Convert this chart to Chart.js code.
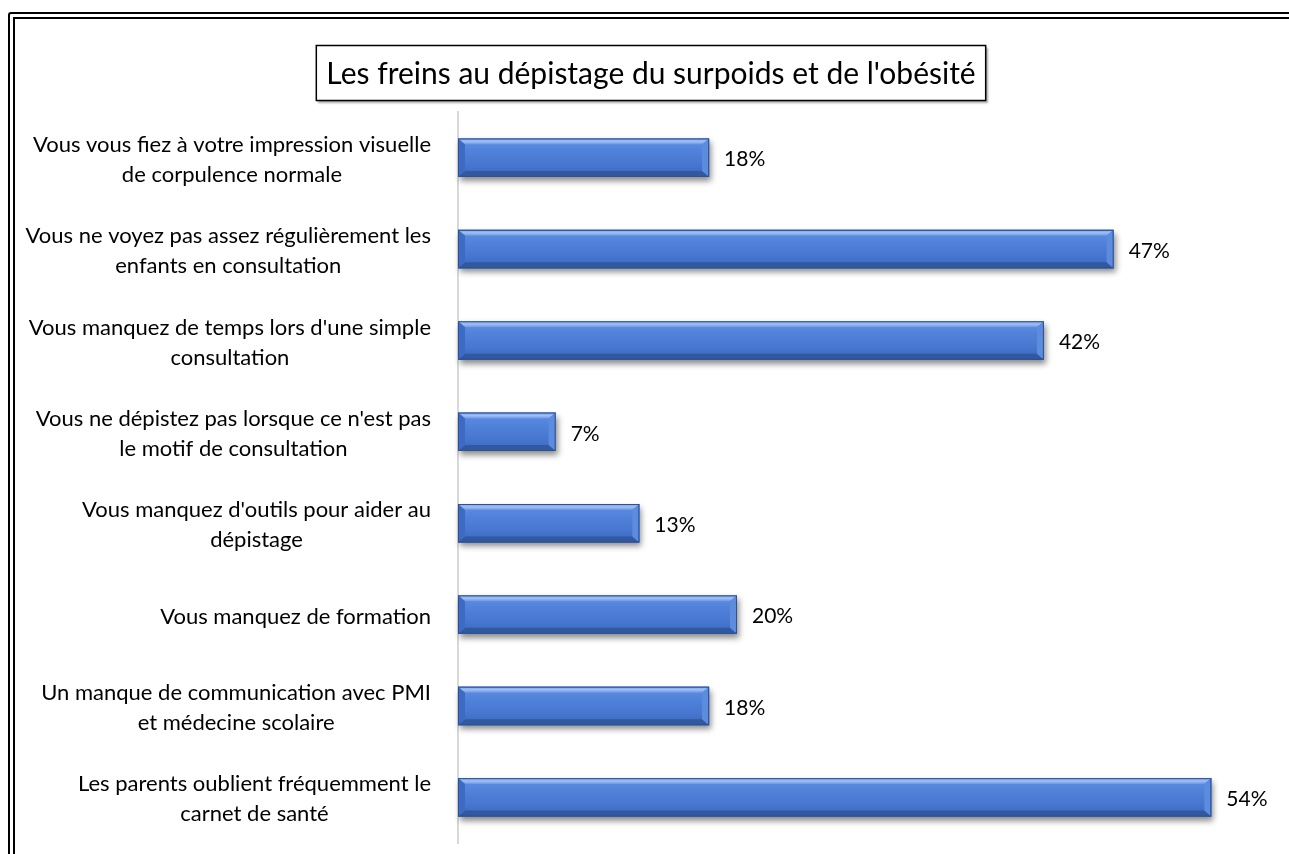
<!DOCTYPE html>
<html>
<head>
<meta charset="utf-8">
<script src="https://cdn.jsdelivr.net/npm/chart.js@4"></script>
<style>
  body { margin: 0; overflow: hidden; background: #fff; }
  #frame { position: absolute; left: 8px; top: 12px; width: 1400px; height: 1000px;
           border: 7px double #000; border-radius: 3px; }
  #chart { position: absolute; left: 0; top: 0; }
</style>
</head>
<body>
<div id="frame"></div>
<canvas id="chart" width="1300" height="854"></canvas>
<script>
// Données
const titre = "Les freins au dépistage du surpoids et de l'obésité";
const categories = [
  ['Vous vous fiez à votre impression visuelle', 'de corpulence normale'],
  ['Vous ne voyez pas assez régulièrement les', 'enfants en consultation'],
  ["Vous manquez de temps lors d'une simple", 'consultation'],
  ["Vous ne dépistez pas lorsque ce n'est pas", 'le motif de consultation'],
  ["Vous manquez d'outils pour aider au", 'dépistage'],
  ['Vous manquez de formation'],
  ['Un manque de communication avec PMI', 'et médecine scolaire'],
  ['Les parents oublient fréquemment le', 'carnet de santé']
];
const valeurs = [18, 47, 42, 7, 13, 20, 18, 54];

const police = 'Lato, "Open Sans", sans-serif';

// Titre encadré
const titrePlugin = {
  id: 'titreBox',
  afterDraw(chart) {
    const ctx = chart.ctx;
    ctx.save();
    ctx.font = '30px ' + police;
    const w = ctx.measureText(titre).width;
    const cx = 651, cy = 73;
    const bw = w + 20, bh = 55;
    ctx.shadowColor = 'rgba(0,0,0,0.35)';
    ctx.shadowOffsetX = 2; ctx.shadowOffsetY = 2; ctx.shadowBlur = 2;
    ctx.fillStyle = '#fff';
    ctx.fillRect(cx - bw / 2, cy - bh / 2, bw, bh);
    ctx.shadowColor = 'transparent';
    ctx.strokeStyle = '#000';
    ctx.lineWidth = 1.5;
    ctx.strokeRect(cx - bw / 2, cy - bh / 2, bw, bh);
    ctx.fillStyle = '#000';
    ctx.textAlign = 'center';
    ctx.textBaseline = 'middle';
    ctx.fillText(titre, cx, cy + 1);
    ctx.restore();
  }
};

// Libellés de catégories : bloc aligné à droite, lignes centrées
const libellesPlugin = {
  id: 'libelles',
  afterDraw(chart) {
    const ctx = chart.ctx, y = chart.scales.y;
    ctx.save();
    ctx.font = '22px ' + police;
    ctx.fillStyle = '#000';
    ctx.textAlign = 'center';
    ctx.textBaseline = 'middle';
    const droite = y.right - 27, lh = 30;
    categories.forEach((lignes, i) => {
      const py = y.getPixelForValue(i) + 2;
      const maxW = Math.max(...lignes.map(l => ctx.measureText(l).width));
      const y0 = py - (lignes.length - 1) * lh / 2;
      lignes.forEach((l, k) => ctx.fillText(l, droite - maxW / 2, y0 + k * lh));
    });
    ctx.restore();
  }
};

// Ombre + biseau des barres, puis étiquettes de valeurs
const barresPlugin = {
  id: 'barres',
  beforeDatasetsDraw(chart) {
    const ctx = chart.ctx;
    ctx.save();
    ctx.shadowColor = 'rgba(0,0,0,0.45)';
    ctx.shadowBlur = 6; ctx.shadowOffsetX = 2; ctx.shadowOffsetY = 4;
    ctx.fillStyle = '#3f6cc0';
    chart.getDatasetMeta(0).data.forEach(el => {
      const p = el.getProps(['x', 'y', 'base', 'height'], true);
      ctx.fillRect(p.base, p.y - p.height / 2, p.x - p.base, p.height);
    });
    ctx.restore();
  },
  afterDatasetsDraw(chart) {
    const ctx = chart.ctx;
    ctx.save();
    chart.getDatasetMeta(0).data.forEach((el, i) => {
      const p = el.getProps(['x', 'y', 'base', 'height'], true);
      const x0 = p.base, x1 = p.x, y0 = p.y - p.height / 2, y1 = p.y + p.height / 2;
      const b = 7, bv = 6;
      const g = ctx.createLinearGradient(0, y0, 0, y1);
      g.addColorStop(0, '#6090e3');
      g.addColorStop(0.3, '#5283db');
      g.addColorStop(0.7, '#4676cf');
      g.addColorStop(1, '#3a66bb');
      ctx.fillStyle = g;
      ctx.fillRect(x0, y0, x1 - x0, y1 - y0);
      // haut
      const gt = ctx.createLinearGradient(0, y0, 0, y0 + bv);
      gt.addColorStop(0, '#7aa2ea'); gt.addColorStop(0.5, '#a0bef3'); gt.addColorStop(1, '#6995e4');
      ctx.fillStyle = gt;
      ctx.beginPath();
      ctx.moveTo(x0, y0); ctx.lineTo(x1, y0); ctx.lineTo(x1 - b, y0 + bv); ctx.lineTo(x0 + b, y0 + bv);
      ctx.closePath(); ctx.fill();
      // bas
      ctx.fillStyle = '#30599f';
      ctx.beginPath();
      ctx.moveTo(x0, y1); ctx.lineTo(x1, y1); ctx.lineTo(x1 - b, y1 - bv); ctx.lineTo(x0 + b, y1 - bv);
      ctx.closePath(); ctx.fill();
      // gauche
      ctx.fillStyle = '#3d6bc3';
      ctx.beginPath();
      ctx.moveTo(x0, y0); ctx.lineTo(x0 + b, y0 + bv); ctx.lineTo(x0 + b, y1 - bv); ctx.lineTo(x0, y1);
      ctx.closePath(); ctx.fill();
      // droite
      ctx.fillStyle = '#5d8bde';
      ctx.beginPath();
      ctx.moveTo(x1, y0); ctx.lineTo(x1 - b, y0 + bv); ctx.lineTo(x1 - b, y1 - bv); ctx.lineTo(x1, y1);
      ctx.closePath(); ctx.fill();
      ctx.strokeStyle = '#2d5192';
      ctx.lineWidth = 1;
      ctx.strokeRect(x0 + 0.5, y0 + 0.5, x1 - x0 - 1, y1 - y0 - 1);
      // valeur
      ctx.fillStyle = '#000';
      ctx.font = '21px ' + police;
      ctx.textAlign = 'left';
      ctx.textBaseline = 'middle';
      ctx.fillText(valeurs[i] + '%', x1 + 15, p.y + 2);
    });
    ctx.restore();
  }
};

new Chart(document.getElementById('chart'), {
  type: 'bar',
  data: {
    labels: categories,
    datasets: [{
      data: valeurs,
      backgroundColor: '#4472c4',
      barPercentage: 0.42,
      categoryPercentage: 1
    }]
  },
  options: {
    indexAxis: 'y',
    responsive: false,
    animation: false,
    devicePixelRatio: 1,
    layout: { padding: { top: 112, bottom: 11, right: 5, left: 0 } },
    plugins: { legend: { display: false }, tooltip: { enabled: false }, title: { display: false } },
    scales: {
      x: { min: 0, max: 60, display: false },
      y: {
        ticks: { display: false },
        grid: { display: false },
        border: { color: '#d9d9d9', width: 2 },
        afterFit(s) { s.width = 458; }
      }
    }
  },
  plugins: [titrePlugin, libellesPlugin, barresPlugin]
});
</script>
</body>
</html>
